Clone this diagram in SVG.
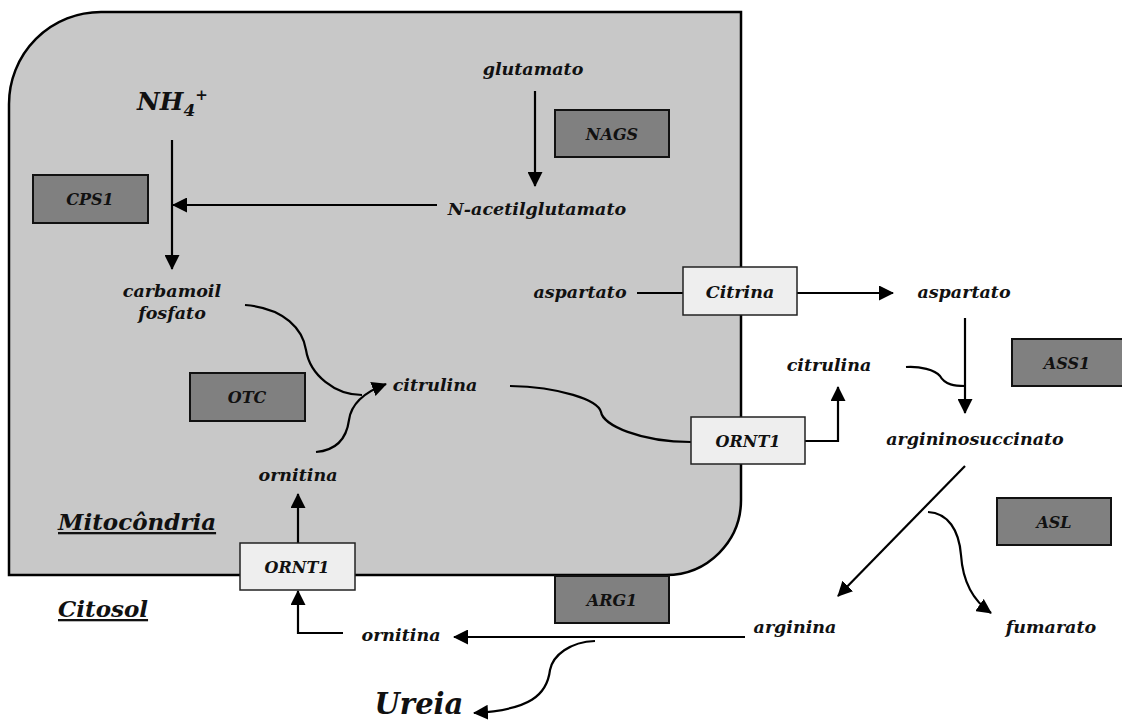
<svg xmlns="http://www.w3.org/2000/svg" width="1122" height="720" viewBox="0 0 1122 720">
<defs>
<style>
.t{font-family:"DejaVu Serif","Liberation Serif",serif;font-weight:bold;font-style:italic;font-size:17.5px;fill:#111;text-anchor:middle}
.b{font-size:16px}
.enz{fill:#808080;stroke:#111;stroke-width:2}
.tr{fill:#eeeeee;stroke:#222;stroke-width:1.5}
.c{fill:none;stroke:#000;stroke-width:2.2}
</style>
<marker id="ah" markerUnits="userSpaceOnUse" markerWidth="15" markerHeight="15" refX="14" refY="7.5" orient="auto">
<path d="M0,0 L15,7.5 L0,15 z" fill="#000"/>
</marker>
</defs>
<rect width="1122" height="720" fill="#fff"/>
<g id="mitocondria">
<path d="M9,104 A92,92 0 0 1 101,12 L741,12 L741,500 A75,75 0 0 1 666,575 L9,575 Z" fill="#c8c8c8" stroke="#000" stroke-width="2.5"/>
<text x="58" y="530" class="t" style="font-size:23px;text-anchor:start;text-decoration:underline">Mitocôndria</text>
</g>
<g id="citosol"><text x="58" y="617" class="t" style="font-size:23px;text-anchor:start;text-decoration:underline">Citosol</text></g>
<g id="connectors">
<line x1="172" y1="140" x2="172" y2="269" class="c" marker-end="url(#ah)"/>
<line x1="437" y1="205" x2="173" y2="205" class="c" marker-end="url(#ah)"/>
<line x1="535" y1="91" x2="535" y2="186" class="c" marker-end="url(#ah)"/>
<path d="M245,305 C285,308 303,330 306,350 C310,375 335,395 362,395" class="c"/>
<path d="M316,452 C340,450 347,435 349,420 C351,405 362,393 386,384" class="c" marker-end="url(#ah)"/>
<path d="M510,386 C560,387 598,400 601,412 C603,425 640,442 691,442" class="c"/>
<polyline points="805,441 838,441 838,387" class="c" marker-end="url(#ah)"/>
<line x1="637" y1="293" x2="683" y2="293" class="c"/>
<line x1="797" y1="293" x2="893" y2="293" class="c" marker-end="url(#ah)"/>
<line x1="965" y1="318" x2="965" y2="413" class="c" marker-end="url(#ah)"/>
<path d="M906,367 C920,366 935,370 940,376 C945,385 955,386 965,386" class="c"/>
<line x1="965" y1="466" x2="838" y2="596" class="c" marker-end="url(#ah)"/>
<path d="M928,512 C948,513 959,530 961,555 C963,585 975,602 991,613" class="c" marker-end="url(#ah)"/>
<line x1="745" y1="637" x2="454" y2="637" class="c" marker-end="url(#ah)"/>
<path d="M595,641 C570,642 553,655 550,670 C547,695 530,710 474,713" class="c" marker-end="url(#ah)"/>
<polyline points="343,633 298,633 298,591" class="c" marker-end="url(#ah)"/>
<line x1="298" y1="543" x2="298" y2="494" class="c" marker-end="url(#ah)"/>
</g>
<g id="nh4"><text x="137" y="110" class="t" style="font-size:25px;text-anchor:start">NH<tspan font-size="17" dy="6">4</tspan><tspan font-size="15" dy="-16">+</tspan></text></g>
<g id="cps1"><rect x="33" y="175" width="115" height="48" class="enz"/><text x="90" y="205" class="t b">CPS1</text></g>
<g id="glutamato"><text x="533" y="75" class="t">glutamato</text></g>
<g id="nags"><rect x="555" y="110" width="114" height="47" class="enz"/><text x="612" y="140" class="t b">NAGS</text></g>
<g id="nacetil"><text x="537" y="215" class="t">N-acetilglutamato</text></g>
<g id="carbamoil"><text x="172" y="297" class="t">carbamoil</text><text x="172" y="319" class="t">fosfato</text></g>
<g id="otc"><rect x="190" y="373" width="115" height="48" class="enz"/><text x="247" y="403" class="t b">OTC</text></g>
<g id="citrulina-m"><text x="435" y="391" class="t">citrulina</text></g>
<g id="ornitina-m"><text x="298" y="481" class="t">ornitina</text></g>
<g id="aspartato-m"><text x="580" y="298" class="t">aspartato</text></g>
<g id="citrina"><rect x="683" y="267" width="114" height="48" class="tr"/><text x="740" y="298" class="t">Citrina</text></g>
<g id="aspartato-c"><text x="964" y="298" class="t">aspartato</text></g>
<g id="ornt1-r"><rect x="691" y="417" width="114" height="47" class="tr"/><text x="748" y="447" class="t b">ORNT1</text></g>
<g id="citrulina-c"><text x="829" y="371" class="t">citrulina</text></g>
<g id="ass1"><rect x="1012" y="339" width="112" height="47" class="enz"/><text x="1067" y="369" class="t b">ASS1</text></g>
<g id="argininosuccinato"><text x="975" y="445" class="t">argininosuccinato</text></g>
<g id="asl"><rect x="997" y="498" width="114" height="47" class="enz"/><text x="1054" y="528" class="t b">ASL</text></g>
<g id="arginina"><text x="795" y="633" class="t">arginina</text></g>
<g id="fumarato"><text x="1051" y="633" class="t">fumarato</text></g>
<g id="arg1"><rect x="555" y="576" width="114" height="47" class="enz"/><text x="612" y="606" class="t b">ARG1</text></g>
<g id="ornitina-c"><text x="401" y="641" class="t">ornitina</text></g>
<g id="ureia"><text x="419" y="714" class="t" style="font-size:29px">Ureia</text></g>
<g id="ornt1-b"><rect x="240" y="543" width="115" height="47" class="tr"/><text x="297" y="573" class="t b">ORNT1</text></g>
</svg>
